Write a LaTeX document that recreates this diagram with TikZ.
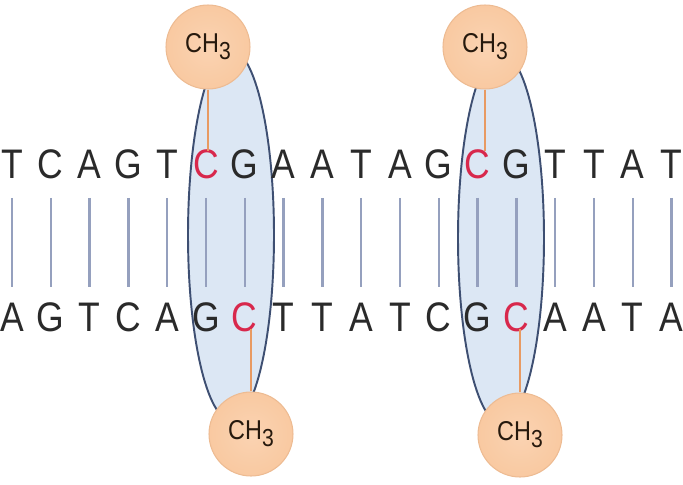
\documentclass[tikz,border=0pt]{standalone}
\usepackage{fontspec}
\setmainfont{Liberation Sans}
\newfontfamily\basefont[FakeStretch=0.86]{Liberation Sans}
\usepackage{xcolor}
\usetikzlibrary{shapes.geometric,positioning}
\definecolor{bondgray}{HTML}{95A0BE}
\definecolor{loopfill}{HTML}{DCE7F4}
\definecolor{loopedge}{HTML}{3E4F72}
\definecolor{methfill}{HTML}{F9C9A1}
\definecolor{methlight}{HTML}{FAD3B2}
\definecolor{methedge}{HTML}{EDBB92}
\definecolor{methstick}{HTML}{E89A62}
\definecolor{cpgred}{HTML}{D8284C}
\definecolor{ink}{HTML}{2A2A2A}

\begin{document}
\begin{tikzpicture}[x=0.02cm,y=-0.02cm,
  base/.style={font=\basefont\fontsize{23.5}{24}\selectfont, inner sep=0pt, text=ink},
  loop/.style={draw=loopedge, line width=1.1pt, fill=loopfill, ellipse, minimum width=1.72cm, minimum height=7.4cm},
  methyl/.style={draw=methedge, line width=0.6pt, inner color=methlight, outer color=methfill, circle, minimum size=1.68cm, inner sep=0pt, font=\basefont\fontsize{15.5}{15.5}\selectfont, text=black!80!brown},
  stick/.style={draw=methstick, line width=1.1pt}]
\useasboundingbox (0,0) rectangle (683,484);

\node[loop] (e1) at (231,235) {};
\node[loop] (e2) at (501,238) {};

\foreach \b/\c [count=\i] in {T/ink,C/ink,A/ink,G/ink,T/ink,C/cpgred,G/ink,A/ink,A/ink,T/ink,A/ink,G/ink,C/cpgred,G/ink,T/ink,T/ink,A/ink,T/ink}
  \node[base, text=\c] (t\i) at ({12+38.8*(\i-1)},164) {\b};
\foreach \b/\c [count=\i] in {A/ink,G/ink,T/ink,C/ink,A/ink,G/ink,C/cpgred,T/ink,T/ink,A/ink,T/ink,C/ink,G/ink,C/cpgred,A/ink,A/ink,T/ink,A/ink}
  \node[base, text=\c] (b\i) at ({12+38.8*(\i-1)},317) {\b};

\foreach \i in {1,...,18}
  \draw[bondgray, line width=1.3pt, shorten <=0.68cm, shorten >=0.6cm] (t\i.center) -- (b\i.center);

\node[methyl] (m1) at (208,47) {CH\raisebox{-0.5ex}{\fontsize{14}{14}\selectfont 3}};
\node[methyl] (m2) at (485,47) {CH\raisebox{-0.5ex}{\fontsize{14}{14}\selectfont 3}};
\node[methyl] (m3) at (251,434) {CH\raisebox{-0.5ex}{\fontsize{14}{14}\selectfont 3}};
\node[methyl] (m4) at (520,435) {CH\raisebox{-0.5ex}{\fontsize{14}{14}\selectfont 3}};

\draw[stick] (m1.south) -- ([yshift=-0.04cm]m1.south |- t6.north);
\draw[stick] (m2.south) -- ([yshift=-0.04cm]m2.south |- t13.north);
\draw[stick] (m3.north) -- ([yshift=0.06cm]m3.north |- b7.south);
\draw[stick] (m4.north) -- ([yshift=0.06cm]m4.north |- b14.south);
\end{tikzpicture}
\end{document}
